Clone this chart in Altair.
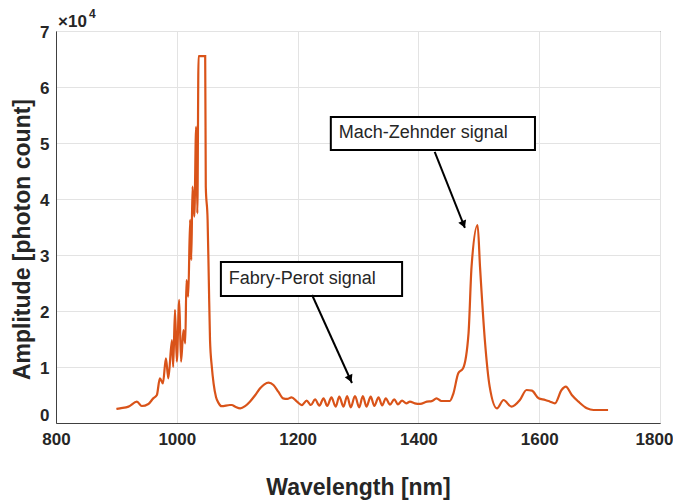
import altair as alt
import pandas as pd

# ---- spectrum data ----
wavelength = [
    900, 906, 920, 934, 942, 953, 961, 967, 972, 977, 982, 986, 992, 994, 997,
    1000, 1004, 1007, 1011, 1014, 1016, 1019, 1022, 1024, 1026, 1029, 1032, 1034,
    1036, 1047, 1048, 1051, 1053, 1055, 1058, 1061, 1065, 1069, 1074, 1088, 1091,
    1097, 1105, 1113, 1121, 1130, 1138, 1145, 1152, 1160, 1168, 1176, 1183, 1190,
    1199, 1207, 1215, 1222, 1229, 1236, 1243, 1249, 1256, 1263, 1269, 1276, 1282,
    1288, 1295, 1302, 1308, 1314, 1321, 1327, 1334, 1340, 1346, 1353, 1360, 1366,
    1373, 1380, 1386, 1394, 1403, 1414, 1422, 1430, 1438, 1452, 1458, 1466, 1474,
    1483, 1488, 1498, 1502, 1510, 1518, 1530, 1541, 1554, 1568, 1579, 1588, 1599,
    1610, 1618, 1626, 1637, 1644, 1654, 1665, 1679, 1690, 1714,
]
amplitude = [
    2500, 2620, 2920, 3810, 3040, 3400, 4400, 5000, 7980, 7080, 11550, 7980, 14800,
    10000, 20200, 10950, 21970, 10950, 16600, 14230, 25540, 22560, 36260, 29110,
    42200, 36850, 52920, 37450, 65500, 65500, 42200, 36260, 25540, 14800, 10000,
    7000, 4600, 3600, 3000, 3210, 3215, 2900, 2620, 3000, 3810, 5000, 6190, 6900,
    7200, 6790, 5600, 4400, 4300, 4580, 3810, 3200, 3990, 3215, 4230, 3100, 4400,
    3040, 4580, 2920, 4700, 2920, 4820, 2800, 4820, 2800, 4820, 2920, 4700, 3040,
    4580, 3155, 4400, 3280, 4230, 3330, 3990, 3510, 3810, 3510, 3400, 3810, 3900,
    4400, 3930, 3930, 5300, 8870, 9760, 16010, 27920, 35360, 27920, 14820, 6490,
    2620, 4110, 2920, 4110, 5890, 5770, 4400, 4110, 3810, 3510, 5890, 6490, 5000,
    3810, 2620, 2320, 2320,
]

x_ticks = [800, 1000, 1200, 1400, 1600, 1800]
y_ticks = [0, 10000, 20000, 30000, 40000, 50000, 60000, 70000]

# ---- annotations (data units) ----
labels = ["Mach-Zehnder signal", "Fabry-Perot signal"]
box_x0 = [1255, 1073]
box_x1 = [1593, 1373]
box_y0 = [48760, 22680]
box_y1 = [54650, 28750]
label_x = [1268, 1086]
label_y = [51800, 25720]
arrow_x0 = [1427, 1224]
arrow_y0 = [48400, 22860]
arrow_x1 = [1477, 1290]
arrow_y1 = [34830, 7140]
arrow_angle = [158, 156]

ORANGE = "#D95319"
TXT = "#262626"
FONT = "Liberation Sans"

df = pd.DataFrame({"wavelength": wavelength, "amplitude": amplitude})
ann = pd.DataFrame({
    "label": labels, "bx0": box_x0, "bx1": box_x1, "by0": box_y0, "by1": box_y1,
    "lx": label_x, "ly": label_y,
    "ax0": arrow_x0, "ay0": arrow_y0, "ax1": arrow_x1, "ay1": arrow_y1,
    "angle": arrow_angle,
})
# arrow head centre a bit behind the tip
ann["hx"] = ann["ax1"] - 0.06 * (ann["ax1"] - ann["ax0"])
ann["hy"] = ann["ay1"] - 0.06 * (ann["ay1"] - ann["ay0"])

x_scale = alt.Scale(domain=[800, 1800], nice=False, zero=False)
y_scale = alt.Scale(domain=[0, 70000], nice=False)

x_axis = alt.Axis(
    values=x_ticks, title="Wavelength [nm]", format="d", labelFlush=False,
    labelBound=False,
    labelOffset={"condition": {"test": "datum.value === 1800", "value": -6}, "value": 0},
    titleBaseline="alphabetic", titleY=71, titleFontSize=23,
)
y_axis = alt.Axis(
    values=y_ticks, labelExpr="datum.value / 10000", title="Amplitude [photon count]",
    labelFlush=False,
    labelOffset={"condition": {"test": "datum.value === 0", "value": -8}, "value": 1},
    titleBaseline="alphabetic", titleX=-27, titleY=208, titleAngle=270,
    titleAlign="center", titleFontSize=23,
)


def X(field):
    return alt.X(field, type="quantitative", scale=x_scale, axis=x_axis)


def Y(field):
    return alt.Y(field, type="quantitative", scale=y_scale, axis=y_axis)


line = alt.Chart(df).mark_line(
    color=ORANGE, strokeWidth=2.2, clip=True, interpolate="monotone"
).encode(x=X("wavelength"), y=Y("amplitude"))

boxes = alt.Chart(ann).mark_rect(fill="white", stroke="black", strokeWidth=2).encode(
    x=X("bx0"), x2="bx1", y=Y("by0"), y2="by1"
)

texts = alt.Chart(ann).mark_text(
    align="left", baseline="middle", fontSize=18, font=FONT, color=TXT
).encode(x=X("lx"), y=Y("ly"), text="label:N")

arrows = alt.Chart(ann).mark_rule(color="black", strokeWidth=2).encode(
    x=X("ax0"), x2="ax1", y=Y("ay0"), y2="ay1"
)

heads = alt.Chart(ann).mark_point(
    shape="triangle", filled=True, color="black", size=70, opacity=1
).encode(x=X("hx"), y=Y("hy"), angle=alt.Angle("angle:Q", scale=None))

exp_base = alt.Chart(pd.DataFrame({"t": ["×10"]})).mark_text(
    align="left", baseline="alphabetic", fontSize=17, font=FONT, fontWeight="bold", color=TXT
).encode(x=alt.value(2), y=alt.value(-4), text="t:N")

exp_pow = alt.Chart(pd.DataFrame({"t": ["4"]})).mark_text(
    align="left", baseline="alphabetic", fontSize=12, font=FONT, fontWeight="bold", color=TXT
).encode(x=alt.value(33), y=alt.value(-13), text="t:N")

chart = alt.layer(line, boxes, arrows, heads, texts, exp_base, exp_pow).properties(
    width=604, height=392,
    autosize=alt.AutoSizeParams(type="none"),
    padding={"left": 48, "top": 23, "right": 13, "bottom": 78},
).configure_view(
    stroke="#404040", strokeWidth=1
).configure_axis(
    grid=True, gridColor="#e3e3e3", gridWidth=1,
    domainColor="#404040", domainWidth=1,
    ticks=False,
    labelFont=FONT, labelFontSize=17, labelFontWeight="bold", labelColor=TXT,
    titleFont=FONT, titleFontWeight="bold", titleColor=TXT,
).configure_axisX(
    labelPadding=8,
).configure_axisY(
    labelPadding=7,
)

chart.save("out.html", embed_options={"renderer": "svg", "actions": False})
